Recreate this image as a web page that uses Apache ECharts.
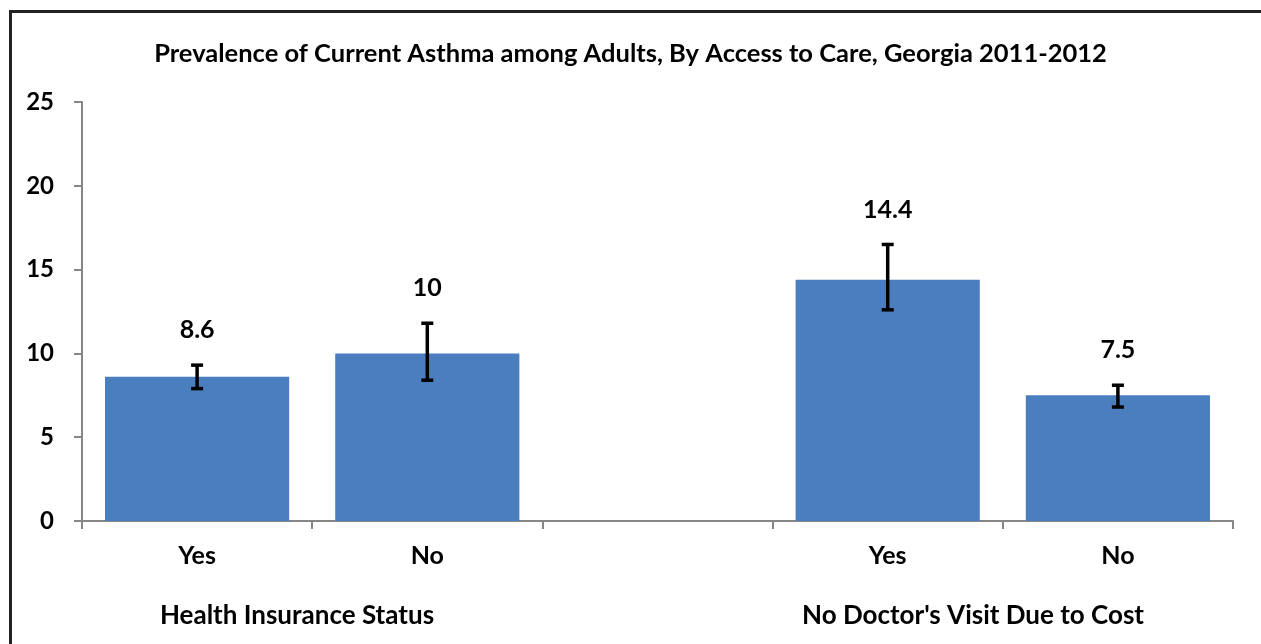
<!DOCTYPE html>
<html><head><meta charset="utf-8">
<script src="https://cdn.jsdelivr.net/npm/echarts@6/dist/echarts.min.js"></script>
<style>html,body{margin:0;padding:0;background:#fff}#c{width:1261px;height:644px}</style>
</head><body><div id="c"></div>
<script>
const categories = ['Yes', 'No', '', 'Yes', 'No'];
const values = [8.6, 10, null, 14.4, 7.5];
const errLow = [7.9, 8.4, null, 12.6, 6.8];
const errHigh = [9.3, 11.8, null, 16.5, 8.1];
const groupLabels = ['Health Insurance Status', "No Doctor's Visit Due to Cost"];
const yTicks = [0, 5, 10, 15, 20, 25];
const titleText = 'Prevalence of Current Asthma among Adults, By Access to Care, Georgia 2011-2012';

const FONT = 'Lato';
const chart = echarts.init(document.getElementById('c'));
const errData = categories.map((c, i) => [i, errLow[i], errHigh[i], values[i]]).filter(d => d[1] != null);

chart.setOption({
  animation: false,
  title: {
    text: titleText, left: 'center', top: 36,
    textStyle: {fontFamily: FONT, fontWeight: 'bold', fontSize: 25.5, color: '#000'}
  },
  grid: {left: 82, right: 28, top: 102, bottom: 123},
  xAxis: {
    type: 'category', data: categories,
    axisLine: {lineStyle: {color: '#868686', width: 2}},
    axisTick: {show: true, length: 8, lineStyle: {color: '#868686', width: 2}},
    axisLabel: {margin: 22, fontFamily: FONT, fontWeight: 'bold', fontSize: 25, color: '#000'}
  },
  yAxis: {
    type: 'value', min: yTicks[0], max: yTicks[yTicks.length - 1], interval: 5,
    splitLine: {show: false},
    axisLine: {show: true, lineStyle: {color: '#868686', width: 2}},
    axisTick: {show: true, length: 8, lineStyle: {color: '#868686', width: 2}},
    axisLabel: {margin: 28, fontFamily: FONT, fontWeight: 'bold', fontSize: 24, color: '#000'}
  },
  series: [
    {
      type: 'bar', data: values, barWidth: '80%',
      itemStyle: {color: '#4a7ebf'}
    },
    {
      type: 'custom', data: errData, z: 10,
      renderItem: function (params, api) {
        const x = api.coord([api.value(0), 0])[0];
        const lo = api.coord([api.value(0), api.value(1)])[1];
        const hi = api.coord([api.value(0), api.value(2)])[1];
        const cap = 6;
        const st = {stroke: '#000', lineWidth: 3.5};
        return {
          type: 'group', children: [
            {type: 'line', shape: {x1: x, y1: lo, x2: x, y2: hi}, style: st},
            {type: 'line', shape: {x1: x - cap, y1: lo, x2: x + cap, y2: lo}, style: st},
            {type: 'line', shape: {x1: x - cap, y1: hi, x2: x + cap, y2: hi}, style: st},
            {type: 'text', x: x, y: hi - 35, style: {
              text: String(api.value(3)), align: 'center', verticalAlign: 'middle',
              font: 'bold 25px ' + FONT, fill: '#000'}}
          ]
        };
      }
    }
  ],
  graphic: [
    {type: 'rect', left: 8, top: 9, shape: {width: 1300, height: 700},
     style: {fill: null, stroke: '#222', lineWidth: 3}},
    {type: 'text', x: 297, y: 616, style: {text: groupLabels[0], align: 'center', verticalAlign: 'middle',
      font: 'bold 26px ' + FONT, fill: '#000'}},
    {type: 'text', x: 973, y: 616, style: {text: groupLabels[1], align: 'center', verticalAlign: 'middle',
      font: 'bold 26px ' + FONT, fill: '#000'}}
  ]
});
</script></body></html>
